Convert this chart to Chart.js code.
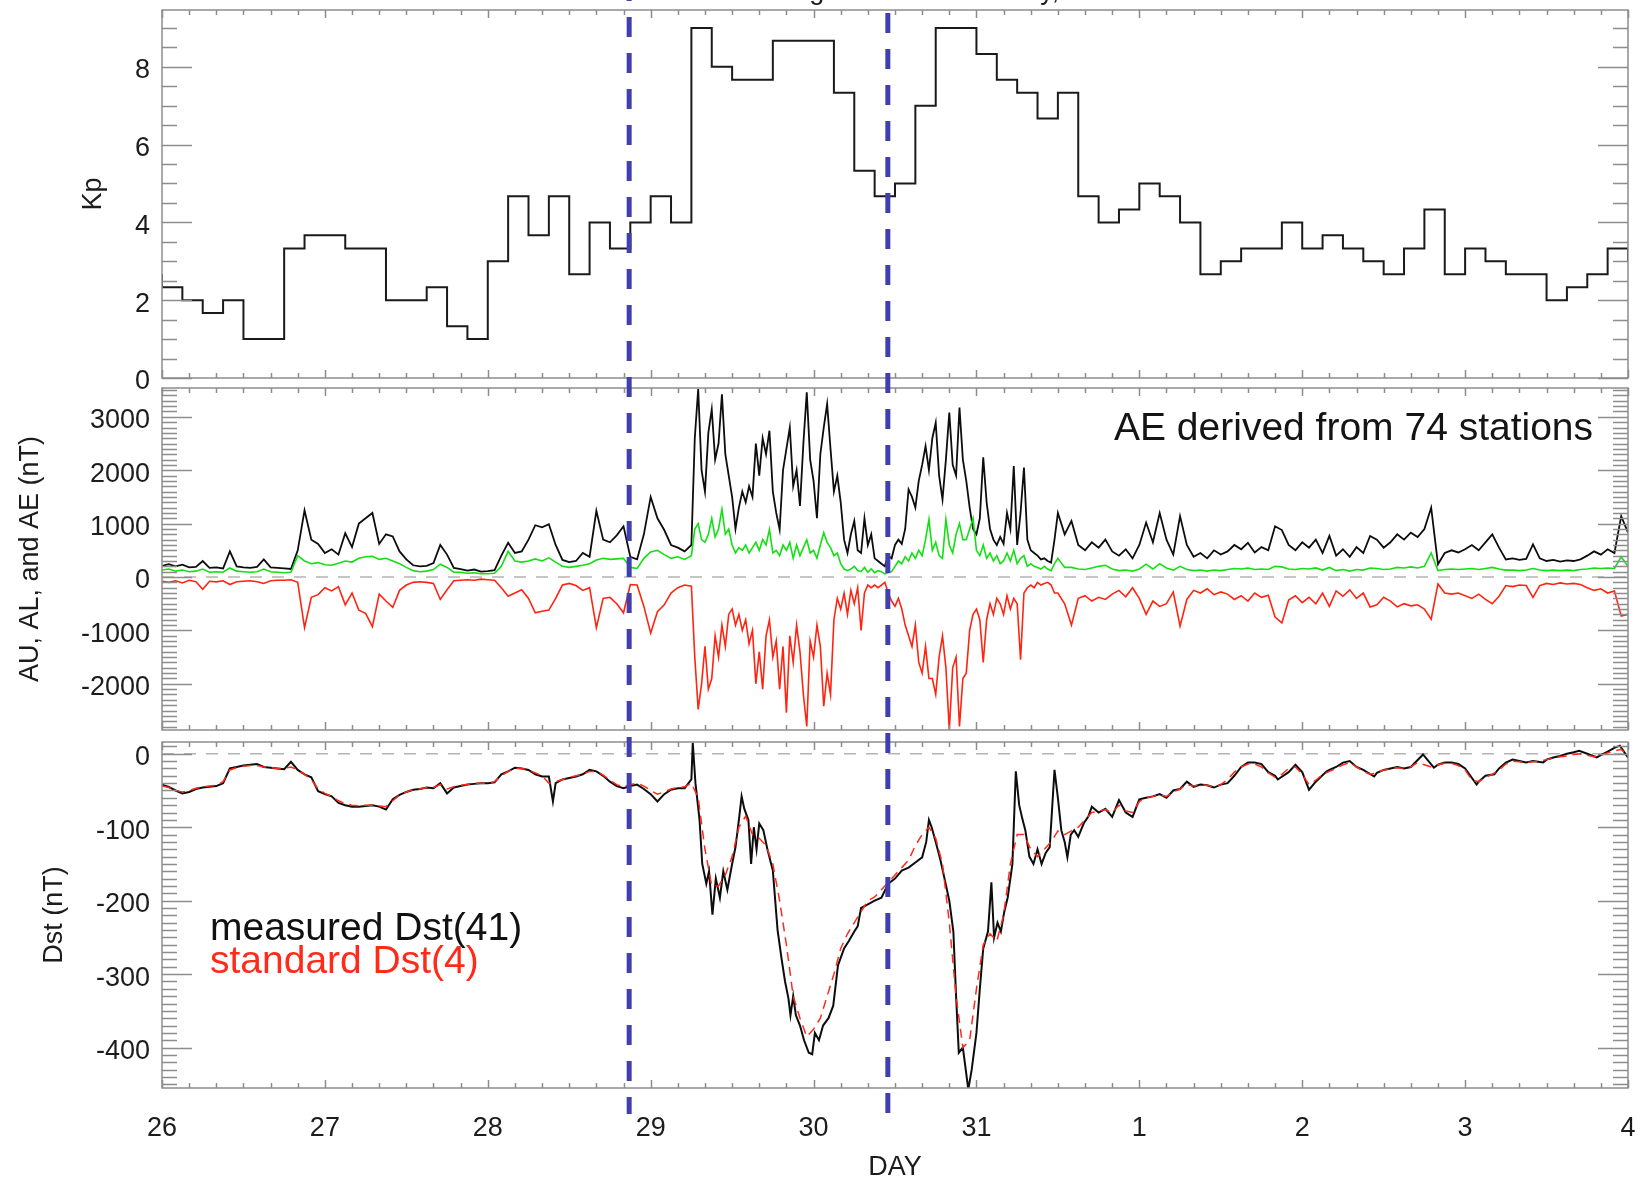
<!DOCTYPE html>
<html>
<head>
<meta charset="utf-8">
<title>Geomagnetic indices, 26 Oct - 4 Nov 2003</title>
<script src="https://cdn.jsdelivr.net/npm/chart.js@4.4.1/dist/chart.umd.min.js"></script>
<style>
  html, body { margin: 0; padding: 0; background: #fff; }
  #stage { position: relative; width: 1644px; height: 1184px; overflow: hidden; }
  #stage canvas { position: absolute; left: 0; top: 0; }
</style>
</head>
<body>
<div id="stage">
  <canvas id="kpChart" width="1644" height="1184"></canvas>
  <canvas id="aeChart" width="1644" height="1184"></canvas>
  <canvas id="dstChart" width="1644" height="1184"></canvas>
</div>
<script>
/* ---------- data ---------- */

// x axis: days counted from 26 Oct 00 UT
const dayTicks = [0, 1, 2, 3, 4, 5, 6, 7, 8, 9];
const dayLabels = ['26', '27', '28', '29', '30', '31', '1', '2', '3', '4'];
const markerDays = [2.868, 4.456];

// Kp, one value per 3-hour interval (26 Oct .. 3 Nov)
const kpOpening = 2.67;
const kpValues = [
  2.33, 2.0, 1.67, 2.0, 1.0, 1.0, 3.33, 3.67,
  3.67, 3.33, 3.33, 2.0, 2.0, 2.33, 1.33, 1.0,
  3.0, 4.67, 3.67, 4.67, 2.67, 4.0, 3.33, 4.0,
  4.67, 4.0, 9.0, 8.0, 7.67, 7.67, 8.67, 8.67,
  8.67, 7.33, 5.33, 4.67, 5.0, 7.0, 9.0, 9.0,
  8.33, 7.67, 7.33, 6.67, 7.33, 4.67, 4.0, 4.33,
  5.0, 4.67, 4.0, 2.67, 3.0, 3.33, 3.33, 4.0,
  3.33, 3.67, 3.33, 3.0, 2.67, 3.33, 4.33, 2.67,
  3.33, 3.0, 2.67, 2.67, 2.0, 2.33, 2.67, 3.33
];
const kpClosing = 3.0;
const kpTicks = [0, 2, 4, 6, 8];

// AE / AU / AL sampling: [start hour, step, count]
const aeSampling = [[0, 1, 79], [78.5, 0.5, 108], [133, 1, 84]];
const aeValues = [
  210, 240, 200, 230, 180, 190, 300, 170, 180, 160, 480, 200, 180, 170, 190, 330, 180, 170, 160, 150, 500,
  1250, 700, 620, 450, 520, 420, 820, 560, 1000, 1100, 1200, 620, 800, 760, 480, 330, 220, 200, 210, 260, 600, 420, 170, 150, 120, 140, 100, 110,
  130, 400, 640, 450, 480, 700, 970, 930, 990, 600, 320, 280, 300, 450, 380, 1240, 700, 650, 780, 950, 380, 330, 800, 1500, 1100, 880, 600, 550, 480, 600,
  // storm, half-hourly
  2600, 3520, 2000, 1600, 2700, 3140, 2200, 2500, 3420, 2300,
  1900, 1500, 900, 1300, 1600, 1400, 1700, 1500, 2500, 1900,
  2600, 2300, 2740, 1600, 1200, 890, 2000, 2400, 2800, 1700,
  2000, 1330, 2500, 3460, 2200, 1800, 1100, 2300, 2800, 3240,
  2400, 1600, 1900, 1400, 700, 450, 800, 1050, 500, 450,
  1100, 600, 800, 350, 300, 250, 200, 400, 350, 600,
  700, 620, 900, 1640, 1500, 1300, 1800, 2100, 2450, 2000,
  2600, 2890, 1900, 1450, 2200, 3080, 2100, 1900, 3175, 2200,
  1800, 1300, 900, 800, 1100, 2240, 1400, 900, 700, 600,
  750, 620, 1200, 900, 2080, 600, 1200, 2050, 700, 500,
  450, 400, 330, 350, 300, 270, 700, 1200,
  // recovery, hourly
  800, 1050, 600, 500, 650, 550, 700, 480, 400, 520, 350, 600, 1020, 650, 1200, 700, 420, 1140, 600, 380,
  450, 350, 500, 420, 480, 600, 520, 640, 460, 560, 500, 950, 880, 600, 500, 650, 550, 700, 450, 770,
  400, 520, 380, 560, 450, 770, 700, 550, 650, 800, 700, 830, 750, 900, 1300, 240, 450, 500, 460, 520,
  600, 500, 650, 800, 550, 330, 350, 320, 340, 610, 350, 300, 320, 290, 310, 300, 330, 400, 480, 420,
  520, 450, 1140, 830
];
const auValues = [
  130, 150, 110, 130, 100, 110, 150, 90, 100, 90, 170, 110, 100, 90, 100, 150, 100, 90, 80, 90, 400,
  300, 250, 270, 230, 220, 260, 300, 280, 350, 380, 390, 330, 350, 300, 250, 180, 120, 100, 110, 140, 240, 180, 90, 90, 70, 80, 60, 60,
  70, 200, 480, 300, 280, 300, 340, 300, 360, 280, 200, 180, 200, 220, 250, 320, 350, 330, 340, 350, 180, 160, 350, 470, 500, 420, 350, 380, 330, 400,
  900, 1000, 700, 650, 800, 1100, 750, 900, 1270, 800,
  900, 600, 450, 550, 500, 600, 450, 550, 650, 500,
  700, 600, 890, 450, 500, 400, 600, 500, 650, 350,
  600, 400, 550, 700, 450, 500, 350, 600, 830, 650,
  550, 400, 450, 250, 150, 120, 150, 200, 120, 100,
  180, 90, 150, 80, 120, 100, 60, 80, 100, 200,
  300, 250, 380, 300, 450, 350, 500, 400, 700, 1080,
  500, 650, 400, 350, 1080, 600, 450, 800, 1000, 700,
  700, 900, 1100, 500, 400, 600, 350, 450, 300, 400,
  250, 300, 450, 300, 500, 250, 350, 400, 200, 250,
  200, 180, 150, 200, 150, 120, 250, 350,
  180, 180, 150, 140, 170, 200, 220, 150, 120, 130, 110, 150, 240, 150, 250, 170, 130, 200, 140, 120,
  130, 110, 130, 120, 140, 160, 150, 170, 140, 150, 140, 200, 190, 150, 140, 160, 150, 170, 130, 180,
  120, 140, 110, 140, 130, 170, 160, 140, 150, 180, 170, 190, 170, 200, 450, 120, 140, 150, 140, 150,
  160, 140, 160, 180, 150, 130, 130, 120, 130, 160, 130, 120, 130, 120, 130, 120, 140, 150, 170, 160,
  170, 160, 380, 200
];
const alValues = [
  -80, -100, -70, -110, -60, -90, -230, -80, -90, -70, -140, -90, -80, -70, -90, -120, -70, -60, -60, -50, -100,
  -950, -380, -330, -200, -260, -180, -520, -300, -620, -680, -930, -320, -450, -570, -250, -150, -100, -90, -100, -120, -420, -240, -70, -60, -50, -60, -40, -50,
  -60, -200, -360, -300, -240, -400, -670, -640, -620, -400, -150, -120, -160, -250, -200, -950, -400, -380, -500, -670, -140, -150, -550, -1050, -650, -520, -300, -200, -150, -170,
  -1500, -2480, -2000, -1300, -2100, -1900, -1100, -1500, -900, -1300,
  -700, -600, -900, -700, -1000, -800, -1250, -1000, -2000, -1400,
  -2100, -1100, -800, -1500, -1200, -2100, -1300, -2540, -1100, -1600,
  -900, -1400, -2200, -2800, -1200, -1500, -900, -1300, -2420, -1800,
  -2200, -800, -400, -600, -300, -700, -250, -500, -200, -1000,
  -300, -150, -200, -150, -200, -150, -100, -300, -450, -550,
  -400, -600, -900, -1100, -1300, -900, -1600, -1800, -1300, -1900,
  -1900, -2200, -1500, -1100, -1700, -2860, -1700, -1500, -2800, -1900,
  -1800, -1000, -700, -600, -800, -1600, -800, -500, -700, -400,
  -500, -700, -350, -600, -400, -500, -1550, -300, -200, -150,
  -200, -100, -150, -120, -100, -150, -300, -300,
  -500, -900, -400, -350, -450, -380, -420, -320, -250, -370, -200, -400, -700, -450, -550, -500, -280, -920, -420, -250,
  -300, -220, -330, -280, -320, -420, -350, -450, -300, -380, -340, -750, -860, -430, -350, -480, -380, -500, -300, -550,
  -260, -360, -240, -400, -300, -560, -520, -380, -450, -560, -500, -540, -520, -600, -790, -130, -300, -320, -300, -350,
  -400, -320, -420, -500, -360, -160, -180, -150, -160, -380, -160, -120, -140, -110, -130, -120, -140, -200, -250, -220,
  -300, -260, -730, -700
];
const aeTicks = [-2000, -1000, 0, 1000, 2000, 3000];

// measured Dst(41): [hour, nT]
const dstMeasured = [
  [0, -42], [1, -45], [2, -50], [3, -54], [4, -52], [5, -48], [6, -46], [7, -45], [8, -44], [9, -40],
  [10, -20], [11, -18], [12, -16], [13, -15], [14, -14], [15, -18], [16, -19], [17, -20], [18, -21], [19, -11],
  [20, -22], [21, -28], [22, -32], [23, -51], [24, -55], [25, -58], [26, -67], [27, -70], [28, -72], [29, -72],
  [30, -71], [31, -70], [32, -72], [33, -76], [34, -62], [35, -56], [36, -52], [37, -49], [38, -48], [39, -46],
  [40, -47], [41, -40], [42, -54], [43, -46], [44, -44], [45, -42], [46, -41], [47, -40], [48, -40], [49, -39],
  [50, -28], [51, -24], [52, -19], [53, -20], [54, -22], [55, -28], [56, -31], [57, -31], [57.6, -65], [58, -40],
  [59, -35], [60, -33], [61, -31], [62, -28], [63, -22], [64, -24], [65, -30], [66, -38], [67, -44], [68, -47],
  [69, -44], [70, -42], [71, -48], [72, -55], [73, -65], [74, -55], [75, -49], [76, -47], [77, -47], [78, -35],
  [78.2, 15], [78.6, -40], [79.2, -90], [79.6, -150], [80.2, -177], [80.6, -160], [81.1, -219], [81.6, -170],
  [82.2, -196], [82.7, -160], [83.3, -185], [84, -150], [84.5, -127], [85, -90], [85.4, -58], [85.8, -75],
  [86.4, -90], [86.8, -150], [87.2, -100], [87.6, -130], [88, -95], [88.6, -104], [89.2, -130], [90, -159],
  [90.7, -240], [91.3, -280], [91.8, -310], [92.3, -333], [92.6, -356], [93, -330], [93.4, -356], [94, -370],
  [94.6, -390], [95.3, -407], [95.8, -409], [96.2, -380], [96.8, -390], [97.4, -370], [98.2, -360], [98.9, -343],
  [99.6, -288], [100.5, -265], [101.2, -255], [102, -242], [102.5, -235], [103, -210], [104, -205], [105, -200],
  [106, -196], [107, -177], [108, -170], [109, -159], [110, -155], [111, -148], [112, -141], [112.6, -120],
  [113, -90], [113.4, -100], [114, -120], [114.7, -145], [115.3, -170], [116, -200], [116.6, -242], [117, -330],
  [117.4, -407], [118, -400], [118.8, -457], [119.3, -430], [120, -380], [120.5, -320], [121, -265], [121.7, -242],
  [122.2, -175], [122.6, -250], [123.1, -230], [123.6, -242], [124.1, -215], [124.6, -196], [125.3, -150], [125.8, -24],
  [126.3, -70], [126.8, -90], [127.2, -104], [127.8, -140], [128.4, -150], [129, -130], [129.6, -150], [130.2, -135],
  [130.8, -127], [131.5, -22], [132, -60], [132.5, -104], [133, -120], [133.4, -141], [133.9, -110], [134.4, -104],
  [135, -113], [135.8, -95], [136.5, -85], [137, -72], [138, -80], [139, -75], [140, -86], [141, -63],
  [142, -80], [143, -86], [144, -62], [145, -60], [146, -58], [147, -55], [148, -60], [149, -50],
  [150, -48], [151, -38], [152, -45], [153, -42], [154, -43], [155, -46], [156, -42], [157, -40],
  [158, -30], [159, -18], [160, -12], [161, -12], [162, -14], [163, -25], [164, -30], [164.4, -35],
  [166, -25], [167, -15], [168, -25], [169, -49], [170, -38], [171.6, -24], [172, -22], [173, -18],
  [174, -12], [175, -10], [176, -18], [177, -22], [178.6, -31], [179, -26], [180, -22], [181, -20],
  [182, -18], [183, -20], [184, -18], [185.8, -1], [187.4, -19], [188, -15], [189, -12], [190, -12],
  [191, -14], [192, -20], [193.7, -42], [194, -38], [195, -30], [196.3, -28], [197, -20], [198, -12],
  [199, -8], [200, -10], [201, -12], [202, -10], [203.5, -12], [204, -8], [205, -5], [206, -3],
  [207, 0], [208, 2], [208.8, 4], [210, 0], [211.4, -5], [212, -2], [213, 3], [214, 8], [214.8, 11], [216, -5]
];
// standard hourly Dst(4), hours 0..216
const dstStandard = [
  -44, -46, -50, -52, -50, -47, -45, -44, -43, -38, -22, -19, -17, -16, -16, -18, -19, -20, -20, -18, -22, -28, -35, -48,
  -54, -58, -64, -68, -70, -71, -70, -70, -71, -72, -64, -56, -52, -49, -48, -46, -46, -42, -48, -45, -43, -42, -40, -40,
  -40, -38, -30, -24, -20, -20, -22, -26, -30, -40, -38, -35, -32, -30, -28, -24, -24, -29, -36, -42, -45, -42, -40, -44,
  -50, -55, -52, -48, -46, -45, -40, -60, -130, -180, -180, -165, -140, -100, -85, -110, -115, -125, -150, -200, -260, -330, -360, -385,
  -375, -360, -330, -300, -265, -245, -230, -215, -200, -195, -185, -175, -165, -155, -145, -125, -110, -100, -115, -150, -230, -330, -400, -390,
  -320, -260, -245, -255, -220, -150, -110, -110, -130, -140, -130, -120, -105, -110, -105, -100, -90, -80, -78, -76, -80, -70, -78, -80,
  -65, -60, -58, -56, -58, -52, -48, -42, -44, -42, -43, -45, -42, -35, -25, -18, -14, -14, -18, -26, -32, -28, -20, -18,
  -28, -42, -36, -28, -24, -20, -15, -12, -18, -24, -28, -26, -22, -20, -19, -20, -18, -12, -15, -18, -15, -13, -13, -16,
  -22, -36, -38, -32, -28, -22, -14, -10, -11, -12, -11, -10, -8, -6, -4, -3, -1, 0, -2, -4, -2, 1, 4, 6,
  -3
];
const dstTicks = [-400, -300, -200, -100, 0];

/* ---------- helpers ---------- */

const FONT = "'Liberation Sans', Arial, Helvetica, sans-serif";
const INK = '#1c1c1c';
const FRAME = '#8d8d8d';
const PLOT_LEFT = 162;
const PLOT_RIGHT_PAD = 16;

const aeHours = aeSampling.flatMap(([start, step, n]) =>
  Array.from({ length: n }, (_, i) => start + i * step));

const aePoints = values => values.map((v, i) => ({ x: aeHours[i] / 24, y: v }));
const zeroLine = [{ x: 0, y: 0 }, { x: 9, y: 0 }];

const kpPoints = [{ x: 0, y: kpOpening }]
  .concat(kpValues.map((v, i) => ({ x: i * 0.125, y: v })))
  .concat([{ x: 9, y: kpClosing }]);

// no extra room for overhanging labels; the plot boxes are placed by layout padding
function noOverhang(s) {
  s.paddingTop = 0; s.paddingBottom = 0; s.paddingLeft = 0; s.paddingRight = 0;
}

function dayAxis(show) {
  return {
    type: 'linear', min: 0, max: 9, display: show,
    afterBuildTicks: s => { s.ticks = dayTicks.map(v => ({ value: v })); },
    afterFit: s => { s.height = show ? 96 : 0; noOverhang(s); },
    grid: { display: false, drawTicks: false },
    border: { display: false },
    ticks: {
      autoSkip: false, maxRotation: 0, padding: 24, color: INK,
      font: { family: FONT, size: 27 },
      callback: (v, i) => dayLabels[i]
    },
    title: {
      display: true, text: 'DAY', color: INK,
      font: { family: FONT, size: 27 }, padding: { top: 0, bottom: 0 }
    }
  };
}

function valueAxis({ min, max, ticks, title, titlePad }) {
  return {
    type: 'linear', position: 'left', min, max,
    afterBuildTicks: s => { s.ticks = ticks.map(v => ({ value: v })); },
    afterFit: s => { s.width = PLOT_LEFT; noOverhang(s); },
    grid: { display: false, drawTicks: false },
    border: { display: false },
    ticks: {
      padding: 12, labelOffset: 4, color: INK,
      font: { family: FONT, size: 27 },
      callback: v => String(v)
    },
    title: {
      display: true, text: title, color: INK,
      font: { family: FONT, size: 27 }, padding: { top: titlePad, bottom: 0 }
    }
  };
}

// box, inward tick marks on all four sides
function framePlugin(minorStep, majorStep, from, to) {
  return {
    id: 'frame',
    afterDatasetsDraw(chart) {
      const { ctx, chartArea: a, scales: { x, y } } = chart;
      ctx.save();
      ctx.strokeStyle = FRAME;
      ctx.lineWidth = 1.5;
      ctx.beginPath();
      const steps = Math.round((to - from) / minorStep);
      for (let k = 0; k <= steps; k++) {
        const v = from + k * minorStep;
        const py = Math.round(y.getPixelForValue(v)) + 0.5;
        const major = Math.abs(v / majorStep - Math.round(v / majorStep)) < 1e-6;
        const len = major ? 30 : 15;
        ctx.moveTo(a.left, py); ctx.lineTo(a.left + len, py);
        ctx.moveTo(a.right, py); ctx.lineTo(a.right - len, py);
      }
      for (let k = 0; k <= 54; k++) {
        const px = Math.round(x.getPixelForValue(k / 6)) + 0.5;
        const len = k % 6 === 0 ? 8 : 5;
        ctx.moveTo(px, a.top); ctx.lineTo(px, a.top + len);
        ctx.moveTo(px, a.bottom); ctx.lineTo(px, a.bottom - len);
      }
      ctx.stroke();
      ctx.strokeRect(a.left, a.top, a.width, a.height);
      ctx.restore();
    }
  };
}

function textPlugin(items) {
  return {
    id: 'notes',
    afterDraw(chart) {
      const ctx = chart.ctx;
      ctx.save();
      ctx.textBaseline = 'alphabetic';
      items.forEach(t => {
        ctx.font = `${t.size}px ${FONT}`;
        ctx.fillStyle = t.color;
        ctx.textAlign = t.align || 'left';
        ctx.fillText(t.text, t.x, t.y);
      });
      ctx.restore();
    }
  };
}

// event markers crossing all three panels
const markerPlugin = {
  id: 'markers',
  afterDraw(chart) {
    const { ctx, scales: { x } } = chart;
    const phases = [19, 23];
    ctx.save();
    ctx.strokeStyle = '#3f3fae';
    ctx.lineWidth = 5;
    ctx.setLineDash([20, 16]);
    markerDays.forEach((d, i) => {
      const px = x.getPixelForValue(d);
      ctx.lineDashOffset = phases[i];
      ctx.beginPath();
      ctx.moveTo(px, 0);
      ctx.lineTo(px, 1114);
      ctx.stroke();
    });
    ctx.restore();
  }
};

function lineSet(data, color, width, extra) {
  return Object.assign({
    data, borderColor: color, borderWidth: width,
    pointRadius: 0, tension: 0, fill: false
  }, extra || {});
}

function makePanel(id, { top, bottom, showDays, yAxis, datasets, plugins }) {
  return new Chart(document.getElementById(id), {
    type: 'line',
    data: { datasets },
    options: {
      responsive: false,
      devicePixelRatio: 1,
      animation: false,
      events: [],
      parsing: false,
      layout: { padding: { left: 0, right: PLOT_RIGHT_PAD, top, bottom } },
      plugins: { legend: { display: false }, tooltip: { enabled: false }, title: { display: false } },
      scales: { x: dayAxis(showDays), y: yAxis }
    },
    plugins
  });
}

/* ---------- panels ---------- */

makePanel('kpChart', {
  top: 10, bottom: 1184 - 378, showDays: false,
  yAxis: valueAxis({ min: 0, max: 9.46, ticks: kpTicks, title: 'Kp', titlePad: 77 }),
  datasets: [lineSet(kpPoints, '#1a1a1a', 2, { stepped: 'before' })],
  plugins: [
    framePlugin(0.5, 2, 0, 9),
    textPlugin([{ text: 'Halloween Geomagnetic Storm Activity, 2003', x: 857, y: -1, size: 27, color: INK, align: 'center' }])
  ]
});

makePanel('aeChart', {
  top: 388, bottom: 1184 - 730, showDays: false,
  yAxis: valueAxis({ min: -2865, max: 3540, ticks: aeTicks, title: 'AU, AL, and AE (nT)', titlePad: 14 }),
  datasets: [
    lineSet(zeroLine, '#b4b4b4', 1.5, { borderDash: [12, 10], order: 4 }),
    lineSet(aePoints(aeValues), '#0d0d0d', 1.8, { order: 3 }),
    lineSet(aePoints(auValues), '#12e012', 1.6, { order: 2 }),
    lineSet(aePoints(alValues), '#ff2410', 1.6, { order: 1 })
  ],
  plugins: [
    framePlugin(100, 1000, -2800, 3500),
    textPlugin([{ text: 'AE derived from 74 stations', x: 1114, y: 440, size: 39, color: '#141414' }])
  ]
});

makePanel('dstChart', {
  top: 742, bottom: 0, showDays: true,
  yAxis: valueAxis({ min: -455, max: 16, ticks: dstTicks, title: 'Dst (nT)', titlePad: 38 }),
  datasets: [
    lineSet(zeroLine, '#b4b4b4', 1.5, { borderDash: [12, 10], order: 3 }),
    lineSet(dstMeasured.map(([h, v]) => ({ x: h / 24, y: v })), '#0d0d0d', 2, { order: 2 }),
    lineSet(dstStandard.map((v, h) => ({ x: h / 24, y: v })), '#ff2a1a', 1.5, { borderDash: [9, 6], order: 1 })
  ],
  plugins: [
    framePlugin(10, 100, -450, 10),
    textPlugin([
      { text: 'measured Dst(41)', x: 210, y: 940, size: 39, color: '#111' },
      { text: 'standard Dst(4)', x: 210, y: 973, size: 39, color: '#ff2a1a' }
    ]),
    markerPlugin
  ]
});
</script>
</body>
</html>
